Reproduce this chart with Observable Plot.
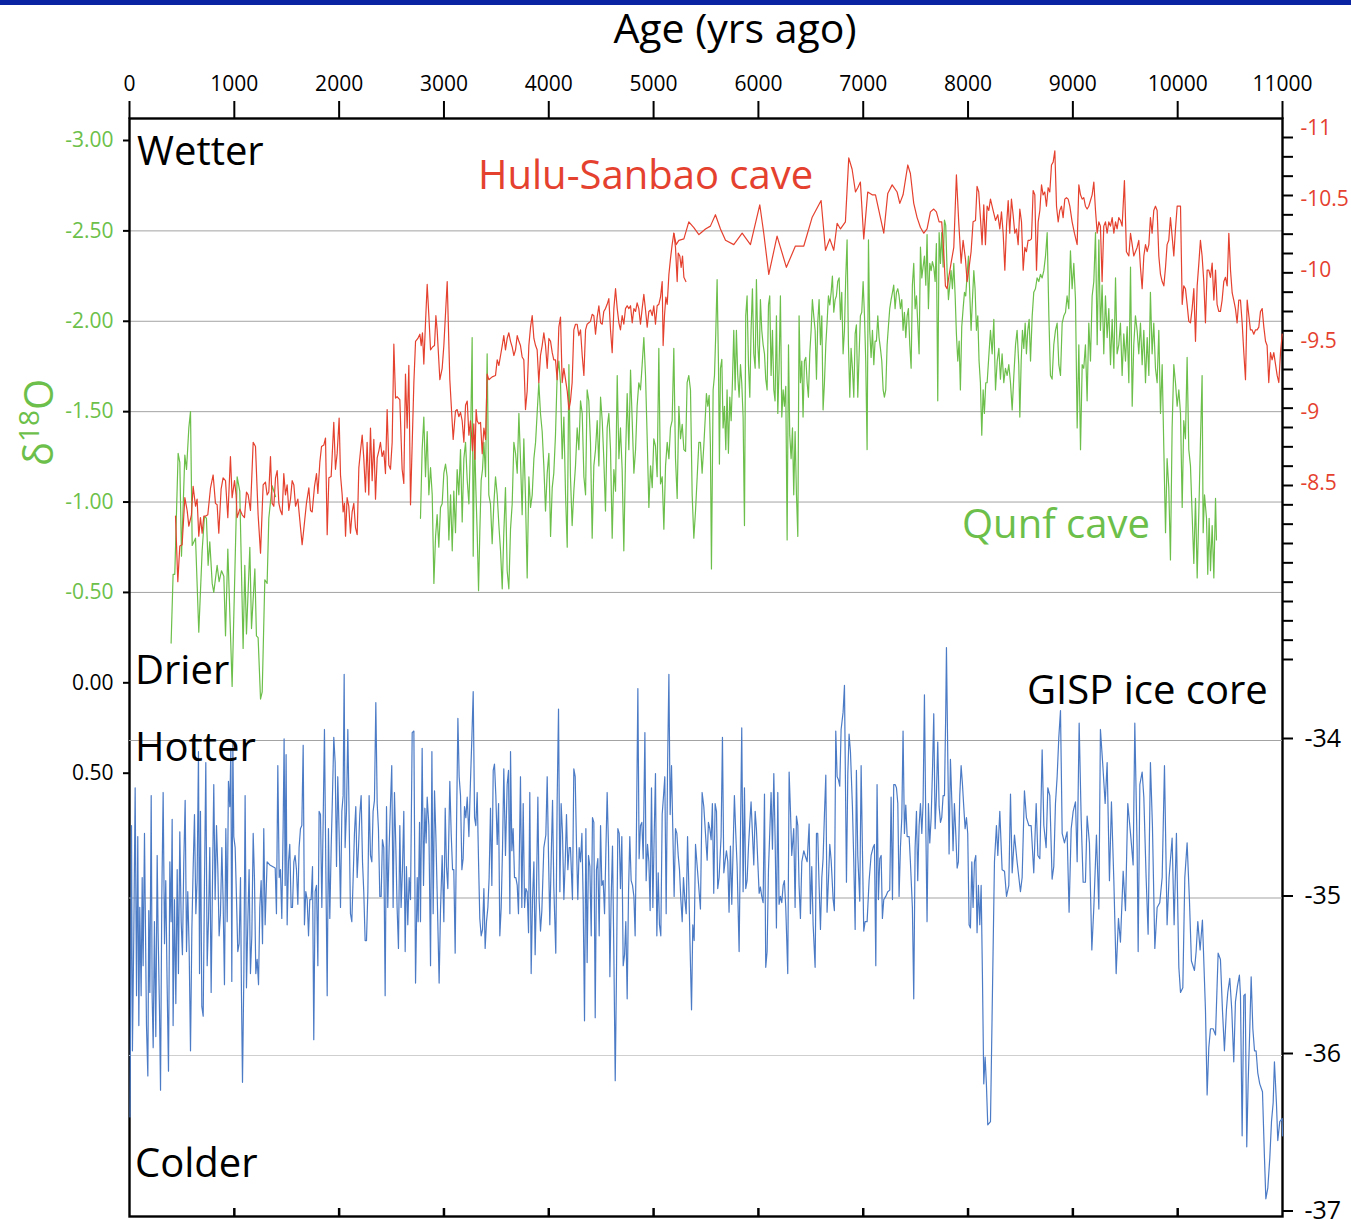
<!DOCTYPE html>
<html><head><meta charset="utf-8">
<script src="https://cdn.jsdelivr.net/npm/d3@7"></script>
<script src="https://cdn.jsdelivr.net/npm/@observablehq/plot@0.6"></script>
<style>
html,body{margin:0;padding:0;background:#fff;overflow:hidden;}
#wrap{position:relative;width:1351px;height:1220px;overflow:hidden;}
#wrap svg{position:absolute;left:0;top:0;}
#band{position:absolute;left:0;top:0;width:1351px;height:5px;background:#0a23a2;}
</style></head><body><div id="wrap"><div id="band"></div></div>
<script>
// ---------- tick labels ----------
const ageTicks = [0,1000,2000,3000,4000,5000,6000,7000,8000,9000,10000,11000];
const innerAgeTicks = [1000,2000,3000,4000,5000,6000,7000,8000,9000,10000];
const qunfTicksGreen = [-3,-2.5,-2,-1.5,-1,-0.5];
const qunfTicksBlack = [0,0.5];
const qunfGrid = [-2.5,-2,-1.5,-1,-0.5];
const huluTicks = [-11,-10.5,-10,-9.5,-9,-8.5];
const gispTicks = [-34,-35,-36,-37];
const rightMinorTicks = d3.range(28);

// ---------- Qunf cave d18O (age, value) ----------
const qunfEarly = [[397,-0.22],[416,-0.60],[432,-0.60],[464,-1.27],[480,-1.22],[496,-0.70],[528,-1.26],[544,-1.18],[566,-1.41],[582,-1.50],[598,-0.76],[630,-0.80],[661,-0.28],[693,-0.73],[715,-0.92],[734,-0.91],[750,-0.65],[766,-0.78],[789,-0.55],[804,-0.50],[836,-0.65],[855,-0.56],[878,-0.62],[900,-0.59],[916,-0.26],[938,-0.74],[979,0.02],[1027,-1.14],[1052,-1.06],[1084,-0.19],[1100,-0.65],[1116,-0.27],[1148,-0.75],[1164,-0.30],[1196,-0.63],[1211,-0.26],[1227,-0.25],[1250,0.09],[1266,0.05],[1291,-0.57],[1313,-0.55],[1329,-0.91],[1361,-1.09],[1393,-1.03]];
const qunfLate = [[2776,-0.91],[2792,-1.29],[2808,-1.47],[2824,-1.14],[2840,-1.39],[2856,-1.04],[2872,-1.19],[2888,-1.04],[2904,-0.55],[2920,-0.81],[2935,-0.93],[2951,-0.75],[2967,-0.97],[2983,-0.99],[2999,-1.16],[3015,-1.21],[3031,-1.14],[3047,-0.79],[3063,-1.04],[3079,-0.73],[3094,-1.06],[3110,-0.83],[3126,-1.18],[3142,-1.04],[3158,-1.29],[3174,-0.89],[3190,-1.24],[3206,-1.33],[3222,-1.12],[3238,-0.99],[3253,-1.31],[3269,-1.91],[3279,-0.70],[3292,-1.37],[3304,-1.08],[3317,-0.83],[3330,-0.51],[3342,-0.83],[3355,-1.12],[3368,-1.18],[3381,-1.33],[3397,-1.14],[3412,-1.82],[3428,-1.04],[3444,-0.99],[3460,-0.77],[3476,-0.99],[3492,-1.14],[3508,-1.04],[3524,-0.87],[3540,-0.73],[3556,-0.52],[3571,-0.83],[3587,-1.08],[3603,-0.62],[3619,-0.52],[3635,-0.85],[3651,-0.99],[3667,-1.33],[3683,-1.27],[3699,-1.16],[3715,-1.49],[3730,-1.24],[3746,-0.93],[3762,-1.35],[3778,-1.02],[3794,-0.58],[3810,-1.14],[3826,-0.97],[3842,-1.04],[3858,-1.24],[3874,-1.33],[3889,-1.49],[3905,-1.66],[3921,-1.49],[3937,-1.39],[3953,-1.20],[3969,-0.95],[3985,-1.16],[4001,-1.27],[4017,-0.81],[4033,-1.08],[4048,-1.16],[4064,-1.37],[4080,-1.70],[4096,-1.78],[4112,-1.66],[4128,-1.24],[4144,-1.47],[4160,-1.04],[4176,-0.75],[4192,-1.76],[4207,-1.14],[4223,-0.87],[4239,-1.06],[4255,-1.20],[4271,-1.41],[4287,-1.29],[4303,-1.56],[4319,-1.49],[4335,-1.14],[4351,-1.04],[4366,-1.62],[4382,-1.56],[4398,-1.33],[4414,-0.80],[4430,-1.20],[4446,-1.29],[4462,-1.45],[4478,-1.20],[4494,-1.58],[4510,-1.45],[4525,-1.24],[4541,-0.95],[4557,-1.41],[4573,-1.49],[4589,-1.29],[4605,-0.80],[4621,-1.18],[4637,-1.06],[4653,-1.70],[4669,-1.24],[4684,-1.41],[4700,-1.18],[4716,-0.73],[4732,-1.24],[4748,-1.60],[4764,-1.29],[4780,-1.73],[4796,-1.45],[4812,-1.16],[4828,-1.29],[4843,-1.53],[4859,-1.66],[4875,-1.62],[4891,-1.76],[4907,-1.91],[4923,-1.70],[4939,-1.35],[4955,-0.97],[4971,-1.20],[4987,-1.08],[5002,-1.35],[5018,-1.31],[5034,-1.14],[5050,-1.85],[5066,-1.10],[5082,-1.14],[5098,-0.85],[5114,-1.20],[5130,-1.33],[5146,-1.24],[5161,-1.41],[5177,-1.45],[5193,-1.85],[5209,-1.24],[5225,-1.02],[5241,-1.53],[5257,-1.35],[5273,-1.43],[5289,-1.29],[5305,-1.28],[5320,-1.66],[5336,-1.70],[5352,-1.62],[5368,-1.04],[5384,-0.80],[5400,-0.95],[5416,-1.14],[5432,-1.33],
[5447,-1.33],[5463,-1.16],[5479,-1.31],[5495,-1.49],[5504,-1.60],[5517,-1.53],[5530,-1.59],[5542,-1.31],[5552,-0.63],[5568,-1.62],[5581,-1.70],[5593,-1.93],[5606,-2.23],[5619,-1.76],[5628,-1.21],[5638,-1.74],[5651,-1.79],[5663,-1.41],[5676,-1.53],[5689,-1.29],[5701,-1.62],[5714,-1.27],[5727,-1.58],[5740,-1.45],[5752,-1.66],[5765,-1.95],[5778,-1.62],[5790,-1.95],[5803,-1.70],[5816,-1.58],[5829,-1.76],[5841,-1.66],[5854,-1.47],[5867,-0.87],[5879,-2.03],[5892,-2.14],[5905,-1.76],[5918,-1.58],[5930,-1.95],[5943,-2.18],[5956,-1.82],[5969,-1.74],[5981,-2.23],[5994,-1.87],[6007,-1.74],[6019,-2.12],[6032,-1.95],[6045,-1.87],[6058,-1.82],[6070,-1.68],[6083,-1.62],[6096,-2.09],[6108,-2.14],[6121,-1.70],[6134,-1.95],[6147,-1.62],[6159,-1.56],[6172,-2.03],[6185,-1.49],[6197,-1.74],[6210,-2.14],[6223,-1.47],[6236,-1.62],[6248,-1.53],[6261,-1.64],[6274,-0.79],[6287,-1.87],[6299,-1.37],[6312,-1.24],[6325,-1.41],[6337,-1.04],[6350,-1.39],[6363,-1.04],[6376,-0.81],[6388,-2.03],[6401,-1.66],[6414,-1.78],[6426,-1.47],[6439,-1.78],[6452,-1.80],[6465,-1.66],[6477,-1.58],[6490,-1.82],[6503,-1.95],[6515,-2.12],[6528,-2.03],[6541,-1.95],[6554,-1.68],[6566,-1.99],[6579,-2.12],[6592,-1.87],[6605,-2.03],[6617,-1.51],[6630,-1.66],[6643,-1.87],[6655,-1.99],[6668,-2.14],[6681,-2.09],[6694,-2.16],[6706,-2.25],[6719,-2.05],[6732,-2.12],[6744,-2.14],[6757,-2.22],[6770,-2.24],[6783,-2.01],[6795,-2.16],[6808,-1.82],[6821,-1.95],[6833,-2.24],[6846,-2.45],[6859,-1.87],[6872,-1.58],[6884,-1.85],[6897,-1.74],[6910,-1.58],[6923,-1.93],[6935,-1.98],[6948,-1.58],[6961,-1.82],[6973,-2.03],[6986,-2.05],[6999,-2.22],[7012,-2.03],[7024,-1.78],[7037,-1.29],[7050,-2.45],[7062,-1.95],[7075,-1.80],[7088,-1.95],[7101,-1.76],[7113,-1.89],[7126,-1.89],[7139,-2.03],[7151,-1.91],[7164,-1.85],[7177,-1.78],[7190,-1.62],[7202,-1.58],[7215,-1.62],[7228,-1.87],[7240,-1.97],[7253,-2.07],[7266,-2.12],[7279,-2.16],[7291,-2.20],[7304,-2.07],[7317,-2.16],[7330,-2.18],[7342,-2.14],[7355,-2.07],[7368,-2.12],[7380,-1.95],[7393,-2.05],[7406,-1.91],[7419,-2.03],[7431,-2.07],[7444,-1.87],[7457,-1.74],[7469,-2.20],[7482,-2.32],[7495,-2.07],[7508,-2.14],[7520,-1.99],[7533,-1.82],[7546,-2.41],[7559,-2.24],[7571,-2.30],[7584,-2.36],[7597,-2.20],[7609,-2.48],[7622,-2.07],[7635,-2.32],[7648,-2.28],[7660,-2.33],[7673,-2.30],[7686,-2.22],[7698,-2.43],[7711,-1.56],[7724,-2.49],[7737,-2.32],[7749,-2.49],[7762,-2.30],[7775,-2.56],[7787,-2.53],[7800,-2.28],[7813,-2.12],[7826,-2.20],[7838,-2.28],[7851,-2.18],[7864,-2.32],[7877,-2.14],[7889,-1.93],[7902,-1.78],[7915,-1.89],[7927,-1.62],[7940,-1.97],[7953,-2.07],[7966,-2.16],[7978,-2.14],[7991,-2.26],[8004,-2.36],[8016,-2.16],[8029,-1.95],[8042,-2.12],[8055,-2.28],[8067,-2.18],[8080,-1.95],[8093,-2.03],[8105,-1.78],[8118,-1.66],[8131,-1.37],[8144,-1.62],[8156,-1.49],[8169,-1.66],[8182,-1.66],
[8214,-1.95],[8230,-1.82],[8246,-2.01],[8262,-1.62],[8278,-1.78],[8294,-1.85],[8309,-1.68],[8325,-1.82],[8341,-1.66],[8357,-1.74],[8373,-1.70],[8389,-1.76],[8405,-1.66],[8421,-1.51],[8437,-1.70],[8453,-1.87],[8468,-1.95],[8484,-1.76],[8494,-1.47],[8507,-1.78],[8519,-1.95],[8532,-1.85],[8545,-1.99],[8557,-1.82],[8570,-1.95],[8583,-2.01],[8596,-1.78],[8612,-2.03],[8627,-2.16],[8643,-2.18],[8659,-2.24],[8675,-2.22],[8691,-2.26],[8707,-2.24],[8723,-2.28],[8739,-2.36],[8755,-2.49],[8771,-2.03],[8786,-1.70],[8802,-1.68],[8818,-1.87],[8834,-1.95],[8850,-1.99],[8866,-1.76],[8882,-1.70],[8898,-1.99],[8914,-2.03],[8930,-2.05],[8945,-2.14],[8961,-2.07],[8977,-2.39],[8993,-2.18],[9009,-2.32],[9025,-2.12],[9041,-1.41],[9057,-1.87],[9073,-1.29],[9089,-1.76],[9104,-1.74],[9120,-1.87],[9136,-1.56],[9152,-1.99],[9168,-1.78],[9184,-2.14],[9200,-2.22],[9216,-2.49],[9232,-1.87],[9248,-2.45],[9263,-1.95],[9279,-2.20],[9295,-1.82],[9311,-2.14],[9327,-1.91],[9343,-2.07],[9359,-1.76],[9375,-2.01],[9391,-1.74],[9407,-2.24],[9422,-1.82],[9438,-1.87],[9454,-1.99],[9470,-1.70],[9486,-1.93],[9502,-1.78],[9518,-1.97],[9534,-1.66],[9550,-2.30],[9566,-1.53],[9581,-1.87],[9597,-2.03],[9613,-1.95],[9629,-1.82],[9645,-1.99],[9661,-1.76],[9677,-1.95],[9693,-1.66],[9709,-1.91],[9725,-1.70],[9740,-2.16],[9756,-1.82],[9772,-1.99],[9788,-1.74],[9804,-1.66],[9820,-1.95],[9836,-1.49],[9852,-1.76],[9868,-1.29],[9884,-0.83],[9899,-1.24],[9915,-1.08],[9931,-0.68],[9947,-1.41],[9963,-1.76],[9979,-1.66],[9995,-1.53],[10011,-1.62],[10027,-1.49],[10043,-0.97],[10058,-1.45],[10074,-1.35],[10090,-1.80],[10106,-1.29],[10122,-1.20],[10138,-0.93],[10154,-0.66],[10170,-1.02],[10186,-0.58],[10202,-0.95],[10217,-1.33],[10233,-1.70],[10243,-0.83],[10256,-1.04],[10275,-0.91],[10287,-0.60],[10300,-0.91],[10313,-0.62],[10329,-0.87],[10345,-0.58],[10361,-1.02],[10370,-0.79]];

// ---------- Hulu-Sanbao cave d18O (age, value) ----------
const huluMain = [[439,-8.27],[461,-7.81],[480,-8.06],[502,-8.07],[528,-8.40],[550,-8.31],[566,-8.20],[591,-8.28],[607,-8.48],[630,-8.34],[645,-8.39],[661,-8.13],[677,-8.26],[693,-8.15],[709,-8.27],[725,-8.27],[747,-8.28],[773,-8.47],[798,-8.56],[820,-8.36],[836,-8.35],[852,-8.15],[874,-8.46],[893,-8.54],[916,-8.52],[938,-8.26],[963,-8.69],[979,-8.40],[1002,-8.52],[1017,-8.42],[1027,-8.26],[1052,-8.32],[1075,-8.28],[1097,-8.26],[1116,-8.44],[1132,-8.42],[1154,-8.31],[1180,-8.79],[1202,-8.76],[1227,-8.28],[1250,-8.01],[1275,-8.49],[1297,-8.51],[1313,-8.42],[1329,-8.44],[1345,-8.69],[1361,-8.36],[1377,-8.34],[1393,-8.54],[1409,-8.59],[1425,-8.36],[1440,-8.31],[1456,-8.28],[1472,-8.57],[1488,-8.42],[1504,-8.49],[1520,-8.31],[1536,-8.39],[1552,-8.52],[1568,-8.49],[1584,-8.34],[1606,-8.39],[1647,-8.07],[1663,-8.18],[1688,-8.36],[1711,-8.47],[1727,-8.31],[1743,-8.30],[1765,-8.48],[1784,-8.57],[1797,-8.43],[1816,-8.65],[1832,-8.76],[1854,-8.77],[1870,-8.82],[1886,-8.14],[1902,-8.54],[1924,-8.55],[1949,-8.93],[1965,-8.60],[1981,-8.71],[2000,-8.96],[2013,-8.56],[2029,-8.42],[2038,-8.30],[2051,-8.36],[2061,-8.13],[2076,-8.40],[2092,-8.34],[2108,-8.15],[2124,-8.30],[2140,-8.36],[2156,-8.19],[2172,-8.14],[2188,-8.61],[2204,-8.73],[2220,-8.84],[2235,-8.68],[2251,-8.44],[2267,-8.79],[2283,-8.42],[2299,-8.89],[2315,-8.52],[2331,-8.81],[2347,-8.39],[2363,-8.68],[2379,-8.73],[2394,-8.79],[2410,-8.69],[2426,-8.73],[2442,-8.57],[2458,-9.02],[2474,-8.63],[2490,-8.60],[2506,-8.79],[2522,-9.48],[2538,-9.10],[2553,-9.11],[2579,-9.09],[2601,-8.60],[2617,-8.50],[2633,-9.27],[2649,-8.89],[2665,-9.33],[2681,-8.35],
[2713,-9.21],[2729,-9.50],[2751,-9.52],[2770,-9.55],[2783,-9.47],[2795,-9.56],[2808,-9.34],[2824,-9.63],[2840,-9.90],[2856,-9.68],[2872,-9.44],[2891,-9.46],[2910,-9.47],[2923,-9.68],[2935,-9.58],[2961,-9.23],[2983,-9.31],[2999,-9.47],[3031,-9.92],[3056,-9.23],[3088,-8.81],[3110,-9.01],[3126,-9.02],[3142,-8.97],[3158,-9.00],[3174,-8.94],[3190,-8.79],[3206,-9.05],[3222,-9.08],[3238,-8.84],[3253,-8.94],[3263,-8.84],[3272,-8.73],[3285,-8.92],[3295,-8.67],[3307,-9.02],[3317,-8.94],[3333,-8.92],[3349,-8.93],[3365,-8.71],[3381,-8.89],[3397,-8.81],[3412,-9.27],[3428,-9.23],[3460,-9.25],[3492,-9.26],[3508,-9.37],[3524,-9.33],[3540,-9.40],[3556,-9.47],[3571,-9.54],[3587,-9.44],[3603,-9.52],[3619,-9.56],[3635,-9.50],[3651,-9.46],[3667,-9.40],[3683,-9.44],[3699,-9.54],[3715,-9.50],[3730,-9.47],[3746,-9.39],[3762,-9.37],[3778,-9.02],[3794,-9.15],[3810,-9.47],[3826,-9.60],[3842,-9.68],[3858,-9.52],[3874,-9.47],[3889,-9.44],[3905,-9.21],[3921,-9.40],[3937,-9.47],[3953,-9.56],[3969,-9.47],[3985,-9.31],[4001,-9.52],[4017,-9.50],[4033,-9.42],[4048,-9.37],[4064,-9.37],[4080,-9.23],[4096,-9.60],[4112,-9.67],[4128,-9.21],[4144,-9.31],[4160,-9.23],[4176,-9.15],[4192,-9.02],[4207,-9.08],[4223,-9.21],[4239,-9.58],[4255,-9.62],[4271,-9.62],[4287,-9.54],[4303,-9.58],[4319,-9.40],[4335,-9.26],[4351,-9.58],[4366,-9.62],[4382,-9.63],[4398,-9.64],[4414,-9.69],[4430,-9.68],[4446,-9.55],[4462,-9.67],[4478,-9.75],[4494,-9.63],[4510,-9.62],[4525,-9.71],[4541,-9.73],[4557,-9.76],[4573,-9.80],[4589,-9.58],[4605,-9.42],[4621,-9.73],[4637,-9.87],[4653,-9.73],[4669,-9.63],[4684,-9.58],[4700,-9.68],[4716,-9.62],[4732,-9.73],[4748,-9.75],[4764,-9.73],[4780,-9.75],[4796,-9.63],[4812,-9.73],[4828,-9.71],[4843,-9.77],[4859,-9.73],[4875,-9.62],[4891,-9.73],[4907,-9.83],[4923,-9.72],[4939,-9.60],[4955,-9.71],[4971,-9.72],[4987,-9.68],[5002,-9.75],[5018,-9.62],[5034,-9.75],[5050,-9.76],[5066,-9.81],[5082,-9.92],[5091,-9.47],[5104,-9.68],[5117,-9.81],[5130,-9.76],[5146,-9.97],[5161,-10.08],[5177,-10.18],[5193,-10.26],[5215,-10.18],[5241,-10.21],[5289,-10.22],[5336,-10.34],[5384,-10.30],[5432,-10.25],
[5447,-10.26],[5495,-10.29],[5542,-10.31],[5590,-10.39],[5638,-10.29],[5686,-10.21],[5765,-10.18],[5845,-10.26],[5924,-10.18],[6013,-10.46],[6051,-10.26],[6099,-9.97],[6178,-10.24],[6267,-10.02],[6353,-10.17],[6433,-10.17],[6512,-10.37],[6598,-10.49],[6640,-10.14],[6681,-10.22],[6719,-10.14],[6751,-10.33],[6783,-10.29],[6830,-10.34],[6862,-10.79],[6894,-10.71],[6926,-10.55],[6948,-10.58],[6973,-10.62],[7005,-10.22],[7043,-10.55],[7085,-10.53],[7117,-10.53],[7164,-10.37],[7196,-10.26],[7234,-10.54],[7276,-10.60],[7323,-10.55],[7349,-10.47],[7380,-10.53],[7425,-10.74],[7450,-10.68],[7482,-10.47],[7514,-10.37],[7546,-10.30],[7578,-10.26],[7609,-10.29],[7641,-10.41],[7673,-10.43],[7698,-10.41],[7724,-10.34],[7749,-10.34],[7768,-10.13],[7784,-9.89],[7800,-9.87],[7816,-9.95],[7838,-10.05],[7864,-10.16],[7889,-10.67],[7911,-10.34],[7934,-10.05],[7953,-10.21],[7975,-10.08],[7991,-9.92],[8010,-10.02],[8029,-10.13],[8048,-10.34],[8071,-10.35],[8086,-10.59],[8102,-10.55],[8118,-10.37],[8134,-10.18],[8150,-10.46],[8166,-10.18],[8182,-10.45],[8198,-10.42],
[8214,-10.50],[8239,-10.42],[8262,-10.35],[8284,-10.39],[8303,-10.29],[8319,-10.41],[8335,-10.26],[8351,-10.00],[8367,-10.31],[8383,-10.49],[8398,-10.26],[8414,-10.50],[8430,-10.39],[8446,-10.26],[8462,-10.29],[8478,-10.18],[8494,-10.43],[8510,-10.34],[8526,-10.00],[8542,-10.16],[8557,-10.13],[8573,-10.21],[8589,-10.21],[8605,-10.22],[8621,-10.56],[8637,-10.53],[8653,-10.00],[8669,-10.34],[8685,-10.42],[8701,-10.60],[8716,-10.53],[8732,-10.55],[8748,-10.45],[8764,-10.58],[8780,-10.55],[8796,-10.74],[8812,-10.76],[8828,-10.84],[8844,-10.45],[8860,-10.34],[8875,-10.42],[8891,-10.45],[8907,-10.37],[8923,-10.50],[8939,-10.51],[8955,-10.50],[8971,-10.45],[8993,-10.34],[9015,-10.26],[9041,-10.18],[9057,-10.60],[9073,-10.53],[9089,-10.50],[9104,-10.51],[9120,-10.45],[9136,-10.43],[9152,-10.45],[9168,-10.49],[9184,-10.53],[9200,-10.62],[9216,-10.42],[9232,-10.26],[9248,-10.34],[9263,-10.31],[9279,-9.92],[9295,-10.31],[9311,-10.34],[9327,-10.26],[9343,-10.34],[9359,-10.31],[9375,-10.37],[9391,-10.26],[9407,-10.34],[9422,-10.29],[9438,-10.37],[9454,-10.35],[9470,-10.31],[9492,-10.63],[9511,-10.13],[9534,-10.10],[9550,-10.26],[9566,-10.18],[9581,-10.10],[9597,-10.13],[9613,-10.16],[9629,-10.21],[9645,-10.02],[9661,-9.87],[9677,-10.10],[9693,-10.18],[9709,-10.13],[9725,-10.18],[9740,-10.37],[9756,-10.26],[9772,-10.42],[9788,-10.45],[9804,-10.42],[9820,-10.10],[9836,-9.97],[9852,-9.92],[9868,-9.89],[9884,-10.02],[9899,-10.18],[9915,-10.21],[9931,-10.37],[9947,-10.24],[9963,-10.10],[9979,-10.29],[9995,-10.45],[10011,-10.45],[10027,-10.45],[10043,-9.76],[10058,-9.89],[10074,-9.87],[10090,-9.76],[10106,-9.64],[10122,-9.63],[10138,-9.73],[10154,-9.87],[10170,-9.50],[10186,-9.89],[10202,-10.05],[10217,-10.21],[10233,-10.10],[10249,-9.92],[10265,-9.63],[10281,-10.00],[10297,-10.00],[10313,-9.95],[10329,-10.05],[10345,-9.79],[10361,-10.00],[10376,-9.76],[10392,-9.71],[10408,-9.71],[10424,-9.79],[10440,-9.92],[10456,-9.95],[10472,-9.89],[10488,-10.26],[10504,-10.00],[10520,-9.84],[10535,-9.79],[10551,-9.73],[10567,-9.63],[10583,-9.79],[10599,-9.79],[10615,-9.63],[10631,-9.42],[10647,-9.23],[10663,-9.79],[10679,-9.68],[10694,-9.58],[10710,-9.58],[10726,-9.55],[10742,-9.58],[10758,-9.58],[10774,-9.60],[10790,-9.71],[10806,-9.73],[10822,-9.60],[10838,-9.50],[10853,-9.47],[10869,-9.21],[10885,-9.42],[10901,-9.37],[10917,-9.42],[10933,-9.34],[10949,-9.26],[10965,-9.21],[10981,-9.42],[10997,-9.55]];
const huluBranch = [[5193,-10.26],[5209,-10.16],[5225,-9.92],[5235,-10.12],[5250,-10.10],[5263,-10.02],[5276,-10.10],[5289,-9.95],[5308,-9.92]];

// ---------- GISP ice core d18O (age, value) ----------
const gisp = [[5,-36.39],[19,-34.54],[28,-35.97],[41,-35.24],[54,-34.30],[67,-35.62],[79,-34.61],[89,-35.81],[98,-35.06],[111,-35.62],[121,-34.87],[130,-35.43],[143,-34.59],[153,-35.24],[162,-35.81],[175,-36.13],[184,-35.08],[194,-35.60],[207,-34.35],[216,-35.62],[226,-35.95],[238,-35.15],[251,-35.88],[264,-34.73],[273,-35.22],[286,-35.71],[296,-36.22],[308,-35.01],[321,-34.33],[334,-35.29],[346,-34.89],[359,-35.55],[372,-36.10],[385,-34.77],[397,-35.15],[407,-34.50],[416,-35.81],[429,-35.01],[442,-35.67],[455,-34.82],[467,-35.48],[480,-34.58],[493,-35.15],[505,-35.36],[518,-34.77],[531,-34.38],[544,-35.34],[556,-34.96],[569,-35.32],[582,-35.97],[595,-35.20],[607,-34.82],[620,-34.47],[633,-35.10],[645,-34.89],[658,-34.07],[668,-35.48],[677,-34.45],[690,-35.69],[703,-35.75],[715,-34.92],[728,-34.14],[741,-35.43],[754,-35.13],[766,-34.68],[779,-35.60],[792,-34.89],[804,-34.28],[817,-35.01],[830,-34.54],[843,-34.82],[855,-35.24],[868,-35.10],[881,-34.68],[893,-35.01],[906,-35.55],[919,-34.56],[932,-35.15],[944,-34.26],[957,-34.42],[967,-34.05],[976,-35.53],[986,-34.02],[995,-34.61],[1008,-34.68],[1021,-35.01],[1033,-35.34],[1046,-35.29],[1059,-34.87],[1068,-35.60],[1078,-36.17],[1091,-35.48],[1103,-34.35],[1116,-35.57],[1129,-35.15],[1141,-34.82],[1154,-35.48],[1167,-35.24],[1180,-34.59],[1192,-34.87],[1205,-35.48],[1218,-35.39],[1231,-35.55],[1243,-35.06],[1256,-34.89],[1269,-35.29],[1281,-34.56],[1294,-35.17],[1313,-34.77],[1339,-34.79],[1390,-34.81],[1402,-35.10],[1415,-34.16],[1428,-34.87],[1440,-34.82],[1453,-35.13],[1466,-34.54],[1475,-33.99],[1485,-34.92],[1494,-34.09],[1504,-35.17],[1517,-34.77],[1529,-34.66],[1542,-35.06],[1555,-35.06],[1568,-34.77],[1580,-34.73],[1593,-34.82],[1606,-35.04],[1618,-34.68],[1631,-34.56],[1644,-34.54],[1657,-34.03],[1669,-35.17],[1682,-34.96],[1695,-35.01],[1708,-35.24],[1720,-35.01],[1733,-35.01],[1746,-34.80],[1758,-35.90],[1771,-34.96],[1784,-34.92],[1797,-35.43],[1809,-34.45],[1822,-34.47],[1835,-35.06],[1847,-34.54],[1860,-33.93],[1873,-34.80],[1886,-35.62],[1898,-34.56],[1911,-35.13],[1924,-34.68],[1936,-34.36],[1949,-33.98],[1962,-34.14],[1975,-34.80],[1987,-34.23],[2000,-34.59],[2013,-35.06],[2026,-34.45],[2038,-34.35],[2048,-33.58],[2057,-34.68],[2070,-34.45],[2083,-33.93],[2095,-34.47],[2108,-35.10],[2121,-35.15],[2134,-34.87],[2146,-34.59],[2159,-34.42],[2172,-34.87],[2185,-34.68],[2197,-34.47],[2210,-34.35],[2223,-34.77],[2235,-34.96],[2248,-35.27],[2261,-35.27],[2274,-34.96],[2286,-34.35],[2299,-34.73],[2312,-34.77],[2324,-34.45],[2337,-34.38],[2350,-33.76],[2363,-34.40],[2375,-34.56],[2388,-34.99],[2401,-34.99],[2413,-34.63],[2426,-34.68],[2439,-35.62],[2452,-34.42],[2464,-35.06],[2477,-34.68],[2490,-34.40],[2502,-34.16],[2515,-35.06],[2528,-34.33],[2541,-34.68],[2553,-35.06],[2566,-35.32],[2579,-34.54],[2591,-35.06],[2604,-34.82],[2617,-34.45],[2630,-35.34],[2642,-34.80],[2655,-35.17],[2668,-34.87],
[2681,-35.01],[2697,-33.95],[2713,-33.94],[2729,-35.54],[2745,-34.87],[2754,-35.15],[2767,-34.52],[2776,-35.15],[2792,-34.05],[2805,-34.92],[2818,-34.43],[2830,-34.65],[2840,-34.36],[2856,-34.54],[2872,-35.43],[2885,-34.07],[2897,-35.10],[2910,-34.32],[2923,-34.61],[2935,-34.96],[2954,-35.54],[2967,-35.08],[2983,-34.73],[2999,-35.15],[3012,-34.43],[3024,-34.80],[3037,-34.94],[3056,-34.26],[3069,-34.59],[3082,-34.82],[3094,-34.82],[3107,-35.35],[3120,-34.54],[3133,-33.86],[3145,-34.23],[3158,-34.35],[3171,-34.82],[3183,-34.75],[3196,-34.42],[3209,-34.49],[3222,-34.36],[3238,-34.61],[3253,-34.26],[3266,-33.99],[3279,-33.69],[3292,-34.49],[3304,-34.54],[3317,-34.33],[3330,-34.77],[3342,-35.13],[3355,-35.24],[3368,-35.20],[3381,-34.94],[3393,-35.32],[3406,-35.15],[3419,-35.06],[3431,-34.87],[3444,-34.43],[3457,-34.92],[3470,-34.19],[3482,-34.15],[3495,-34.35],[3508,-34.66],[3521,-34.40],[3533,-35.24],[3546,-35.06],[3559,-34.68],[3571,-34.18],[3587,-34.73],[3603,-34.28],[3616,-34.19],[3629,-35.10],[3635,-34.07],[3648,-34.70],[3660,-34.56],[3673,-34.87],[3686,-34.87],[3699,-34.92],[3711,-35.10],[3730,-34.23],[3743,-35.06],[3756,-34.40],[3769,-35.06],[3781,-34.94],[3794,-34.96],[3807,-35.22],[3819,-34.33],[3832,-35.48],[3845,-35.01],[3858,-34.77],[3870,-35.36],[3883,-34.94],[3896,-34.36],[3908,-35.01],[3921,-35.21],[3934,-35.08],[3953,-34.68],[3972,-34.60],[3985,-34.23],[3998,-34.75],[4010,-35.17],[4023,-34.75],[4036,-34.38],[4048,-34.93],[4067,-35.35],[4080,-34.38],[4093,-33.80],[4106,-34.96],[4118,-34.40],[4131,-34.59],[4144,-35.01],[4157,-34.77],[4169,-34.47],[4182,-34.82],[4195,-34.68],[4207,-34.68],[4226,-35.01],[4239,-34.18],[4252,-34.23],[4265,-34.68],[4277,-35.01],[4290,-34.68],[4303,-34.77],[4316,-34.59],[4328,-35.01],[4341,-35.78],[4354,-34.56],[4366,-35.41],[4379,-34.73],[4392,-34.80],[4405,-35.24],[4417,-34.49],[4430,-34.52],[4443,-35.76],[4455,-34.82],[4468,-34.75],[4481,-35.24],[4494,-34.54],[4506,-34.92],[4519,-34.89],[4532,-35.10],[4544,-34.73],[4557,-34.33],[4570,-34.68],[4583,-35.50],[4595,-35.01],[4608,-34.67],[4621,-35.36],[4634,-36.16],[4646,-35.48],[4659,-34.56],[4672,-34.59],[4684,-34.94],[4697,-34.61],[4710,-35.43],[4723,-35.36],[4735,-35.15],[4748,-35.64],[4761,-34.96],[4773,-34.61],[4786,-34.89],[4799,-34.92],[4812,-34.99],[4824,-35.24],[4837,-34.54],[4850,-33.67],[4862,-34.75],[4875,-34.54],[4888,-34.52],[4901,-34.75],[4917,-33.95],[4929,-34.89],[4942,-34.66],[4955,-34.77],[4967,-35.08],[4980,-34.30],[4993,-35.06],[5006,-34.59],[5018,-34.21],[5031,-35.24],[5044,-34.84],[5056,-35.17],[5069,-35.24],[5082,-34.47],[5095,-34.35],[5107,-34.23],[5120,-35.10],[5133,-34.19],[5146,-33.58],[5158,-34.47],[5171,-34.16],[5184,-34.59],[5196,-34.99],[5209,-34.56],[5222,-34.59],[5235,-34.73],[5247,-34.82],[5260,-35.01],[5273,-35.15],[5285,-34.87],[5298,-35.01],[5311,-35.10],[5324,-34.61],[5336,-34.92],[5349,-35.34],[5362,-35.71],[5374,-35.17],[5387,-35.27],[5400,-34.66],
[5447,-35.07],[5463,-34.33],[5479,-34.42],[5495,-34.59],[5511,-34.76],[5523,-34.52],[5536,-34.56],[5549,-34.63],[5561,-34.40],[5574,-34.97],[5587,-34.40],[5600,-34.45],[5612,-34.94],[5625,-34.87],[5644,-34.61],[5657,-33.98],[5670,-34.84],[5682,-34.77],[5695,-34.70],[5708,-34.77],[5720,-35.09],[5733,-34.67],[5746,-35.04],[5759,-34.68],[5771,-34.35],[5784,-34.59],[5797,-34.80],[5816,-35.34],[5829,-34.59],[5841,-33.92],[5854,-34.96],[5867,-34.30],[5879,-34.94],[5892,-34.89],[5905,-34.68],[5918,-34.52],[5930,-34.39],[5943,-34.59],[5956,-34.79],[5969,-34.45],[5981,-34.56],[5994,-34.77],[6007,-34.97],[6019,-34.93],[6032,-34.99],[6045,-35.03],[6058,-34.34],[6070,-35.44],[6083,-35.34],[6096,-34.82],[6108,-34.59],[6121,-34.33],[6134,-34.69],[6147,-34.21],[6159,-34.61],[6172,-35.19],[6185,-34.33],[6197,-35.04],[6210,-34.99],[6223,-35.03],[6236,-34.92],[6248,-34.89],[6261,-35.06],[6280,-35.48],[6293,-34.20],[6306,-34.45],[6318,-34.73],[6337,-34.56],[6350,-35.06],[6363,-34.48],[6376,-34.54],[6388,-34.92],[6401,-35.13],[6414,-34.77],[6433,-34.70],[6446,-34.73],[6465,-34.77],[6484,-34.53],[6496,-35.10],[6509,-34.80],[6522,-35.17],[6541,-35.44],[6554,-34.59],[6566,-34.59],[6579,-34.92],[6592,-35.20],[6605,-34.87],[6617,-34.75],[6630,-34.47],[6643,-34.22],[6655,-35.09],[6668,-34.89],[6681,-34.66],[6694,-34.76],[6713,-35.01],[6725,-35.08],[6738,-33.94],[6751,-34.23],[6764,-34.25],[6776,-34.29],[6789,-33.93],[6808,-33.82],[6821,-33.65],[6840,-34.90],[6853,-34.21],[6865,-33.96],[6878,-34.07],[6897,-34.42],[6910,-34.77],[6923,-35.20],[6935,-34.19],[6948,-34.73],[6967,-35.02],[6980,-34.16],[6992,-34.68],[7005,-35.21],[7018,-35.15],[7037,-35.15],[7056,-34.89],[7075,-34.73],[7094,-34.68],[7107,-34.66],[7120,-35.43],[7132,-34.28],[7145,-35.01],[7158,-34.75],[7171,-34.73],[7183,-35.13],[7196,-35.01],[7215,-34.99],[7234,-34.96],[7253,-34.95],[7266,-34.36],[7279,-35.01],[7291,-34.28],[7304,-34.28],[7317,-34.30],[7330,-34.40],[7342,-34.99],[7355,-34.68],[7368,-34.49],[7380,-33.94],[7393,-34.59],[7406,-34.41],[7419,-34.61],[7438,-34.61],[7450,-34.77],[7469,-35.06],[7482,-35.64],[7495,-34.68],[7508,-34.45],[7520,-34.89],[7533,-34.54],[7546,-34.40],[7559,-34.59],[7571,-34.40],[7584,-33.71],[7597,-34.54],[7609,-35.15],[7622,-34.40],[7635,-34.65],[7648,-34.49],[7660,-34.21],[7673,-33.83],[7686,-34.56],[7698,-34.35],[7711,-34.01],[7724,-34.42],[7737,-34.52],[7749,-34.49],[7762,-34.35],[7775,-34.35],[7787,-33.83],[7794,-33.41],[7807,-34.12],[7819,-34.72],[7832,-34.12],[7845,-34.38],[7857,-34.70],[7870,-34.40],[7883,-34.59],[7896,-34.81],[7908,-34.77],[7921,-34.35],[7934,-34.16],[7946,-34.27],[7959,-34.42],[7972,-34.56],[7985,-34.49],[7997,-34.59],[8010,-35.17],[8023,-35.19],[8036,-34.77],[8048,-35.06],[8061,-34.77],[8074,-34.73],[8086,-35.22],[8099,-34.92],[8112,-35.17],[8125,-34.92],[8137,-35.48],[8150,-36.18],[8163,-36.01],[8175,-36.18],[8188,-36.44],
[8214,-36.42],[8252,-34.77],[8271,-34.54],[8284,-34.73],[8303,-34.45],[8325,-34.82],[8348,-34.83],[8367,-34.99],[8389,-34.92],[8405,-34.34],[8421,-34.84],[8443,-34.60],[8468,-34.77],[8500,-34.96],[8516,-34.87],[8538,-34.32],[8557,-34.49],[8580,-34.54],[8602,-34.54],[8627,-34.84],[8650,-34.40],[8666,-34.73],[8685,-34.75],[8707,-34.06],[8723,-34.54],[8745,-34.68],[8761,-34.30],[8780,-34.35],[8802,-34.88],[8818,-34.80],[8834,-34.40],[8850,-34.23],[8866,-33.98],[8882,-33.81],[8898,-34.59],[8920,-34.65],[8945,-34.58],[8964,-35.09],[8984,-34.56],[9003,-34.45],[9025,-34.39],[9041,-34.77],[9060,-33.89],[9079,-34.49],[9098,-34.90],[9120,-34.90],[9136,-34.48],[9158,-34.65],[9181,-35.33],[9200,-35.06],[9225,-34.60],[9248,-35.07],[9263,-33.93],[9286,-34.16],[9308,-34.40],[9327,-34.14],[9349,-34.89],[9368,-34.39],[9391,-34.89],[9413,-35.48],[9435,-35.13],[9454,-35.28],[9480,-34.83],[9502,-35.08],[9524,-34.40],[9550,-34.59],[9575,-34.79],[9591,-33.89],[9613,-34.68],[9623,-35.34],[9639,-34.28],[9661,-34.20],[9677,-34.36],[9699,-34.87],[9718,-35.23],[9740,-34.14],[9759,-34.54],[9782,-35.32],[9804,-35.06],[9829,-35.03],[9852,-34.87],[9874,-34.16],[9899,-35.17],[9918,-34.87],[9947,-34.62],[9966,-35.17],[9988,-34.59],[10011,-35.44],[10027,-35.60],[10049,-35.57],[10068,-34.87],[10090,-34.65],[10112,-35.01],[10131,-35.40],[10160,-35.46],[10176,-35.34],[10192,-35.15],[10214,-35.33],[10236,-35.14],[10265,-35.71],[10281,-36.25],[10297,-35.95],[10313,-35.83],[10338,-35.83],[10361,-35.87],[10386,-35.35],[10408,-35.39],[10427,-35.71],[10446,-35.97],[10465,-35.71],[10478,-35.60],[10497,-35.51],[10516,-35.71],[10535,-36.04],[10551,-35.66],[10570,-35.56],[10589,-35.49],[10599,-35.62],[10615,-36.51],[10631,-35.62],[10644,-35.61],[10659,-36.58],[10672,-36.18],[10688,-35.83],[10701,-35.50],[10717,-35.83],[10733,-35.97],[10748,-35.97],[10764,-36.11],[10783,-36.18],[10809,-36.23],[10828,-36.65],[10841,-36.91],[10860,-36.84],[10879,-36.65],[10895,-36.42],[10911,-36.30],[10923,-36.04],[10942,-36.30],[10955,-36.54],[10974,-36.42],[10997,-36.40],[11000,-36.51]];

// ---------- styling ----------
const W = 1351, H = 1220;
const RED = "#e5412f", GREEN = "#6cbf4a", BLUE = "#4c7bc6", GRID = "#a3a3a3";
const FONT = '"Open Sans", sans-serif';
const base = {
  width: W, height: H, marginTop: 118, marginBottom: 4, marginLeft: 129, marginRight: 69,
  style: {background: "transparent", fontFamily: FONT, overflow: "visible"}
};
const X = d => d[0], Y = d => d[1];
const wrap = document.getElementById("wrap");

// Layer 1: Qunf (left axis), frame, top axis
wrap.appendChild(Plot.plot({
  ...base,
  x: {domain: [0, 11000]},
  y: {domain: [-3, 0.5], range: [140, 772.7]},
  marks: [
    Plot.ruleY(qunfGrid, {stroke: GRID, strokeWidth: 1}),
    Plot.line(qunfEarly, {x: X, y: Y, stroke: GREEN, strokeWidth: 1.2}),
    Plot.line(qunfLate, {x: X, y: Y, stroke: GREEN, strokeWidth: 1.2}),
    Plot.axisY(qunfTicksGreen, {anchor: "left", tickSize: 6, tickPadding: 10, tickFormat: d => d.toFixed(2), fill: GREEN, stroke: "black", strokeWidth: 2, fontSize: 21, label: null}),
    Plot.axisY(qunfTicksBlack, {anchor: "left", tickSize: 6, tickPadding: 10, tickFormat: d => d.toFixed(2), fill: "black", stroke: "black", strokeWidth: 2, fontSize: 21, label: null}),
    Plot.axisX(ageTicks, {anchor: "top", tickSize: 18, tickPadding: 10, tickFormat: d => String(d), fill: "black", stroke: "black", strokeWidth: 2, fontSize: 21, label: null}),
    Plot.tickX(innerAgeTicks, {x: d => d, insetTop: 1090, stroke: "black", strokeWidth: 2.5}),
    Plot.frame({stroke: "black", strokeWidth: 2.4})
  ]
}));

// Layer 2: Hulu-Sanbao (right red axis)
wrap.appendChild(Plot.plot({
  ...base,
  x: {domain: [0, 11000], axis: null},
  y: {domain: [-11, -8.5], range: [127.5, 483]},
  marks: [
    Plot.line(huluMain, {x: X, y: Y, stroke: RED, strokeWidth: 1.2}),
    Plot.line(huluBranch, {x: X, y: Y, stroke: RED, strokeWidth: 1.2}),
    Plot.axisY(huluTicks, {anchor: "right", tickSize: 0, tickPadding: 18, tickFormat: d => String(d), fill: RED, fontSize: 21, label: null})
  ]
}));

// Layer 3: right-hand minor tick marks
wrap.appendChild(Plot.plot({
  ...base,
  y: {domain: [0, 27], range: [137, 659]},
  marks: [
    Plot.axisY(rightMinorTicks, {anchor: "right", tickSize: 10, tickFormat: () => "", stroke: "black", strokeWidth: 2, label: null})
  ]
}));

// Layer 4: GISP (right black axis)
wrap.appendChild(Plot.plot({
  ...base,
  x: {domain: [0, 11000], axis: null},
  y: {domain: [-34, -37], range: [740, 1212.5]},
  marks: [
    Plot.ruleY([-34, -35], {stroke: GRID, strokeWidth: 1}),
    Plot.ruleY([-36], {stroke: "#cfcfcf", strokeWidth: 1}),
    Plot.line(gisp, {x: X, y: Y, stroke: BLUE, strokeWidth: 1.2}),
    Plot.axisY(gispTicks, {anchor: "right", tickSize: 10, tickPadding: 12, tickFormat: d => String(d), fill: "black", stroke: "black", strokeWidth: 2, fontSize: 25, dy: -2, label: null})
  ]
}));

// Annotation text layer
const ov = d3.create("svg").attr("width", W).attr("height", H).style("font-family", FONT);
function label(txt, x, y, size, color, anchor) {
  ov.append("text").attr("x", x).attr("y", y).attr("font-size", size).attr("fill", color)
    .attr("text-anchor", anchor || "start").text(txt);
}
label("Age (yrs ago)", 735, 43, 41, "#000", "middle");
label("Wetter", 137, 165, 40, "#000");
label("Drier", 135, 684, 40, "#000");
label("Hotter", 135, 761, 40, "#000");
label("Colder", 135, 1177, 40, "#000");
label("Hulu-Sanbao cave", 478, 189, 40, RED);
label("Qunf cave", 962, 538, 40, GREEN);
label("GISP ice core", 1027, 704, 40, "#000");
const d18 = ov.append("text").attr("transform", "translate(53,466) rotate(-90)").attr("font-size", 40).attr("fill", GREEN);
d18.append("tspan").text("δ");
d18.append("tspan").attr("dy", -14).attr("font-size", 28).text("18");
d18.append("tspan").attr("dy", 14).text("O");
wrap.appendChild(ov.node());
</script></body></html>
